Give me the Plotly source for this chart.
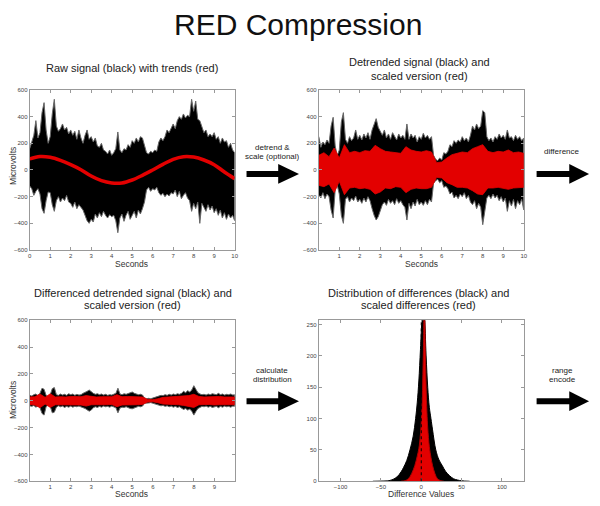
import plotly.graph_objects as go

W, H = 600, 506
FONT = "Liberation Sans, Arial, Helvetica, sans-serif"

# ---------------- data ----------------
t_black = [round(i * 0.1, 1) for i in range(101)]   # seconds
t_red = [round(i * 0.25, 2) for i in range(41)]      # seconds
t_trend = [round(i * 0.5, 1) for i in range(21)]     # seconds

# Panel 1: raw signal envelope (microvolts)
raw_upper = [160, 210, 260, 370, 240, 280, 430, 505, 300, 200,
             250, 420, 530, 330, 290, 310, 345, 300, 320, 270,
             300, 260, 290, 230, 300, 240, 200, 260, 300, 230,
             250, 210, 240, 180, 170, 200, 150, 140, 120, 150,
             110, 130, 160, 285, 150, 130, 160, 150, 190, 170,
             220, 200, 240, 210, 250, 240, 180, 130, 120, 140,
             130, 150, 140, 210, 240, 220, 250, 300, 280, 320,
             345, 310, 370, 400, 380, 420, 390, 410, 400, 530,
             440, 517, 380, 370, 320, 280, 300, 250, 270, 250,
             280, 230, 250, 200, 240, 210, 220, 170, 200, 150, 130]
raw_lower = [-120, -140, -190, -160, -140, -180, -290, -325, -230, -165,
             -170, -260, -310, -230, -200, -240, -210, -230, -190, -240,
             -250, -280, -240, -290, -260, -280, -300, -335, -380, -400,
             -370, -390, -330, -360, -320, -350, -310, -340, -360, -335,
             -350, -340, -380, -470, -360, -330, -385, -340, -310, -370,
             -340, -310, -360, -300, -330, -290, -240, -150, -130, -160,
             -140, -150, -130, -170, -190, -175, -200, -180, -195, -170,
             -180, -150, -200, -160, -215, -190, -170, -210, -230, -310,
             -250, -290, -240, -400, -250, -280, -310, -260, -300, -270,
             -320, -290, -340, -300, -360, -320, -370, -330, -360, -340, -380]
trend = [83, 101, 95, 72, 40, 2, -45, -80, -97, -97,
         -75, -40, 0, 42, 80, 100, 97, 75, 40, -15, -65]

# Panel 2: detrended signal envelope (black) and scaled version (red)
det_upper = [250, 170, 210, 190, 225, 200, 330, 395, 180, 110,
             150, 360, 430, 230, 200, 250, 220, 240, 300, 230,
             260, 225, 270, 240, 280, 230, 300, 340, 385, 320,
             290, 260, 300, 240, 270, 230, 280, 250, 225, 270,
             240, 260, 230, 345, 230, 270, 240, 260, 210, 250,
             230, 275, 240, 260, 230, 250, 110, 80, 70, 90,
             75, 130, 120, 140, 190, 175, 220, 200, 225, 210,
             250, 220, 240, 210, 260, 330, 300, 345, 310, 330,
             445, 430, 250, 220, 240, 210, 250, 230, 270, 240,
             260, 230, 300, 240, 250, 220, 260, 230, 250, 220, 240]
det_lower = [-190, -210, -170, -215, -180, -200, -300, -360, -150, -115,
             -180, -340, -400, -220, -200, -240, -210, -230, -195, -240,
             -220, -250, -210, -240, -200, -230, -290, -340, -375, -350,
             -310, -260, -240, -265, -220, -250, -230, -260, -215, -250,
             -230, -260, -280, -375, -250, -290, -240, -270, -220, -260,
             -240, -265, -230, -260, -220, -240, -100, -80, -70, -95,
             -80, -130, -120, -140, -180, -165, -210, -190, -215, -180,
             -200, -170, -215, -190, -240, -260, -230, -290, -250, -280,
             -410, -300, -210, -190, -215, -180, -210, -190, -230, -200,
             -240, -210, -310, -230, -270, -220, -290, -230, -260, -220, -300]
scl_upper = [110, 130, 100, 165, 90, 190, 130, 140, 130, 145,
             140, 185, 160, 140, 135, 130, 125, 175, 150, 140,
             135, 145, 135, 55, 60, 90, 115, 125, 135, 130,
             160, 175, 190, 140, 130, 140, 135, 150, 130, 135, 125]
scl_lower = [-115, -125, -105, -170, -85, -185, -135, -130, -140, -135,
             -145, -180, -165, -135, -140, -125, -130, -170, -145, -135,
             -140, -140, -130, -55, -60, -95, -110, -130, -130, -135,
             -155, -180, -185, -135, -135, -130, -140, -145, -135, -130, -130]

# Panel 3: differenced detrended signal envelope (black) and scaled version (red)
dif_upper = [40, 35, 45, 50, 38, 55, 93, 85, 40, 30,
             45, 90, 98, 45, 40, 50, 42, 48, 40, 52,
             45, 50, 40, 48, 42, 45, 55, 60, 70, 80,
             65, 55, 48, 52, 45, 50, 42, 48, 40, 45,
             42, 48, 55, 93, 50, 45, 52, 48, 55, 60,
             65, 55, 50, 45, 48, 42, 20, 15, 18, 15,
             20, 25, 30, 35, 40, 38, 45, 40, 48, 42,
             50, 45, 52, 48, 55, 70, 60, 75, 65, 80,
             112, 85, 60, 50, 45, 48, 42, 50, 45, 52,
             48, 45, 55, 45, 50, 42, 48, 45, 50, 42, 45]
dif_lower = [-38, -42, -35, -48, -40, -52, -95, -107, -45, -32,
             -42, -90, -85, -48, -38, -45, -40, -50, -42, -48,
             -40, -48, -42, -45, -40, -48, -52, -58, -65, -78,
             -70, -52, -45, -50, -42, -48, -40, -45, -42, -48,
             -40, -45, -52, -90, -55, -48, -50, -45, -52, -58,
             -60, -52, -48, -42, -45, -40, -18, -15, -17, -14,
             -18, -22, -28, -32, -38, -35, -42, -38, -45, -40,
             -48, -42, -50, -45, -55, -65, -58, -70, -62, -78,
             -107, -80, -58, -48, -42, -45, -40, -48, -42, -50,
             -45, -42, -52, -42, -48, -40, -45, -42, -48, -40, -42]
dsc_upper = [28, 30, 50, 25, 52, 28, 30, 28, 32, 30,
             30, 38, 32, 28, 30, 28, 30, 45, 30, 32,
             30, 32, 28, 10, 8, 15, 25, 28, 30, 30,
             35, 38, 48, 32, 28, 30, 30, 32, 28, 30, 28]
dsc_lower = [-28, -32, -52, -25, -50, -30, -28, -30, -30, -32,
             -32, -40, -30, -30, -28, -30, -28, -45, -32, -30,
             -32, -30, -28, -10, -8, -15, -25, -30, -28, -30,
             -35, -40, -50, -30, -30, -28, -32, -30, -30, -28, -30]

# Panel 4: distribution of differences (black) and scaled differences (red)
hist_x = [-60, -45, -40, -35, -30, -25, -22, -18, -14, -10, -7, -5, -3, -1,
          1, 2, 3, 4, 6, 8, 10, 12, 14, 18, 22, 26, 30, 35, 40, 45, 50, 60]
hist_black = [0, 0.5, 1, 3, 7, 15, 22, 33, 50, 72, 100, 125, 160, 210,
              260, 270, 275, 265, 200, 150, 118, 100, 82, 50, 34, 25, 16, 9, 4, 2, 0.7, 0]
hist_red_x = [-25, -20, -16, -12, -8, -5, -3, -1, 1, 2, 3, 3.5, 4, 5, 6, 7,
              8, 10, 12, 14, 17, 20, 24, 28]
hist_red = [0, 1, 4, 12, 25, 40, 52, 75, 120, 170, 230, 260, 262, 210, 150, 110,
            85, 55, 38, 25, 12, 4, 1, 0]

# tick labels
sec_ticks_1 = list(range(0, 11))
sec_ticks_2 = list(range(1, 11))
sec_ticks_3 = list(range(1, 10))
uv_ticks = [-600, -400, -200, 0, 200, 400, 600]
dv_ticks = [-100, -50, 0, 50, 100]
cnt_ticks = [0, 50, 100, 150, 200, 250]

RED = "#e30000"


def px(x):
    return x / W


def py(y):
    return 1 - y / H


def band(x, up, lo, color, line_color, lw, xa, ya):
    return go.Scatter(x=list(x) + list(x)[::-1], y=list(up) + list(lo)[::-1],
                      mode="lines", fill="toself", fillcolor=color,
                      line=dict(color=line_color, width=lw),
                      xaxis=xa, yaxis=ya, hoverinfo="skip", showlegend=False)


fig = go.Figure()
# Panel 1
fig.add_trace(band(t_black, raw_upper, raw_lower, "black", "#666", 1, "x", "y"))
fig.add_trace(go.Scatter(x=t_trend, y=trend, mode="lines", line=dict(color=RED, width=3.5, shape="spline"),
                         xaxis="x", yaxis="y", showlegend=False))
# Panel 2
fig.add_trace(band(t_black, det_upper, det_lower, "black", "#666", 1, "x2", "y2"))
fig.add_trace(band(t_red, scl_upper, scl_lower, RED, RED, 0.8, "x2", "y2"))
# Panel 3
fig.add_trace(band(t_black, dif_upper, dif_lower, "black", "#666", 1, "x3", "y3"))
fig.add_trace(band(t_red, dsc_upper, dsc_lower, RED, RED, 0.8, "x3", "y3"))
# Panel 4
fig.add_trace(go.Scatter(x=hist_x, y=hist_black, mode="lines", fill="tozeroy", fillcolor="black",
                         line=dict(color="black", width=1, shape="spline"), xaxis="x4", yaxis="y4",
                         showlegend=False))
fig.add_trace(go.Scatter(x=hist_red_x, y=hist_red, mode="lines", fill="tozeroy", fillcolor=RED,
                         line=dict(color="#b00000", width=1, shape="spline"), xaxis="x4", yaxis="y4",
                         showlegend=False))

ax = dict(showline=True, linecolor="#999", linewidth=1, mirror="ticks", ticks="inside",
          ticklen=3, tickcolor="#999", showgrid=False, zeroline=False,
          tickfont=dict(size=6, color="#444", family=FONT))

top_dom = [py(250), py(88)]
bot_dom = [py(484), py(321)]
left_dom = [px(28), px(235)]
right_dom = [px(320), px(527)]

fig.update_layout(
    width=W, height=H, margin=dict(l=0, r=0, t=0, b=0),
    paper_bgcolor="white", plot_bgcolor="white", showlegend=False,
    font=dict(family=FONT),
    xaxis=dict(ax, domain=left_dom, anchor="y", range=[0, 10], tickvals=sec_ticks_1),
    yaxis=dict(ax, domain=top_dom, anchor="x", range=[-600, 600], tickvals=uv_ticks),
    xaxis2=dict(ax, domain=right_dom, anchor="y2", range=[0, 10], tickvals=sec_ticks_2),
    yaxis2=dict(ax, domain=top_dom, anchor="x2", range=[-600, 600], tickvals=uv_ticks),
    xaxis3=dict(ax, domain=left_dom, anchor="y3", range=[0, 9.99], tickvals=sec_ticks_3),
    yaxis3=dict(ax, domain=bot_dom, anchor="x3", range=[-600, 600], tickvals=uv_ticks),
    xaxis4=dict(ax, domain=right_dom, anchor="y4", range=[-127, 127], tickvals=dv_ticks),
    yaxis4=dict(ax, domain=bot_dom, anchor="x4", range=[0, 257], tickvals=cnt_ticks),
)

# dotted zero line in distribution
fig.add_shape(type="line", xref="x4", yref="y4", x0=0, x1=0, y0=0, y1=257,
              line=dict(color="black", width=1, dash="dot"), layer="above")

# arrows
def arrow(x0, xc, xt, yc):
    fig.add_shape(type="rect", xref="paper", yref="paper",
                  x0=px(x0), x1=px(xc + 1), y0=py(yc + 3), y1=py(yc - 3),
                  fillcolor="black", line=dict(width=0))
    path = f"M {px(xc)},{py(yc - 10)} L {px(xt)},{py(yc)} L {px(xc)},{py(yc + 10)} Z"
    fig.add_shape(type="path", xref="paper", yref="paper", path=path,
                  fillcolor="black", line=dict(width=0))

arrow(247, 279, 300, 173)
arrow(540, 573, 593, 173)
arrow(247, 279, 300, 403)
arrow(540, 573, 593, 403)

def text(x, y, s, size, color="#222", angle=0):
    fig.add_annotation(x=px(x), y=py(y), xref="paper", yref="paper", text=s, showarrow=False,
                       xanchor="center", yanchor="middle", textangle=angle,
                       font=dict(size=size, color=color, family=FONT))

text(299, 22, "RED Compression", 30, "#111")
text(131, 66, "Raw signal (black) with trends (red)", 11)
text(422, 60, "Detrended signal (black) and", 11)
text(422, 74, "scaled version (red)", 11)
text(132, 293, "Differenced detrended signal (black) and", 11)
text(132, 306, "scaled version (red)", 11)
text(421, 293, "Distribution of differences (black) and", 11)
text(421, 306, "scaled differences (red)", 11)

text(273, 146, "detrend &", 8)
text(273, 155, "scale (optional)", 8)
text(566, 150, "difference", 8)
text(273, 372, "calculate", 8)
text(273, 381, "distribution", 8)
text(566, 372, "range", 8)
text(566, 381, "encode", 8)

text(131, 264, "Seconds", 8.5, "#333")
text(424, 264, "Seconds", 8.5, "#333")
text(131, 497, "Seconds", 8.5, "#333")
text(423, 497, "Difference Values", 8.5, "#333")
text(11, 165, "Microvolts", 8.5, "#333", -90)
text(11, 402, "Microvolts", 8.5, "#333", -90)

fig.write_html("out.html", config={"displayModeBar": False},
               post_script="document.body.style.margin='0';document.body.style.overflow='hidden';")
